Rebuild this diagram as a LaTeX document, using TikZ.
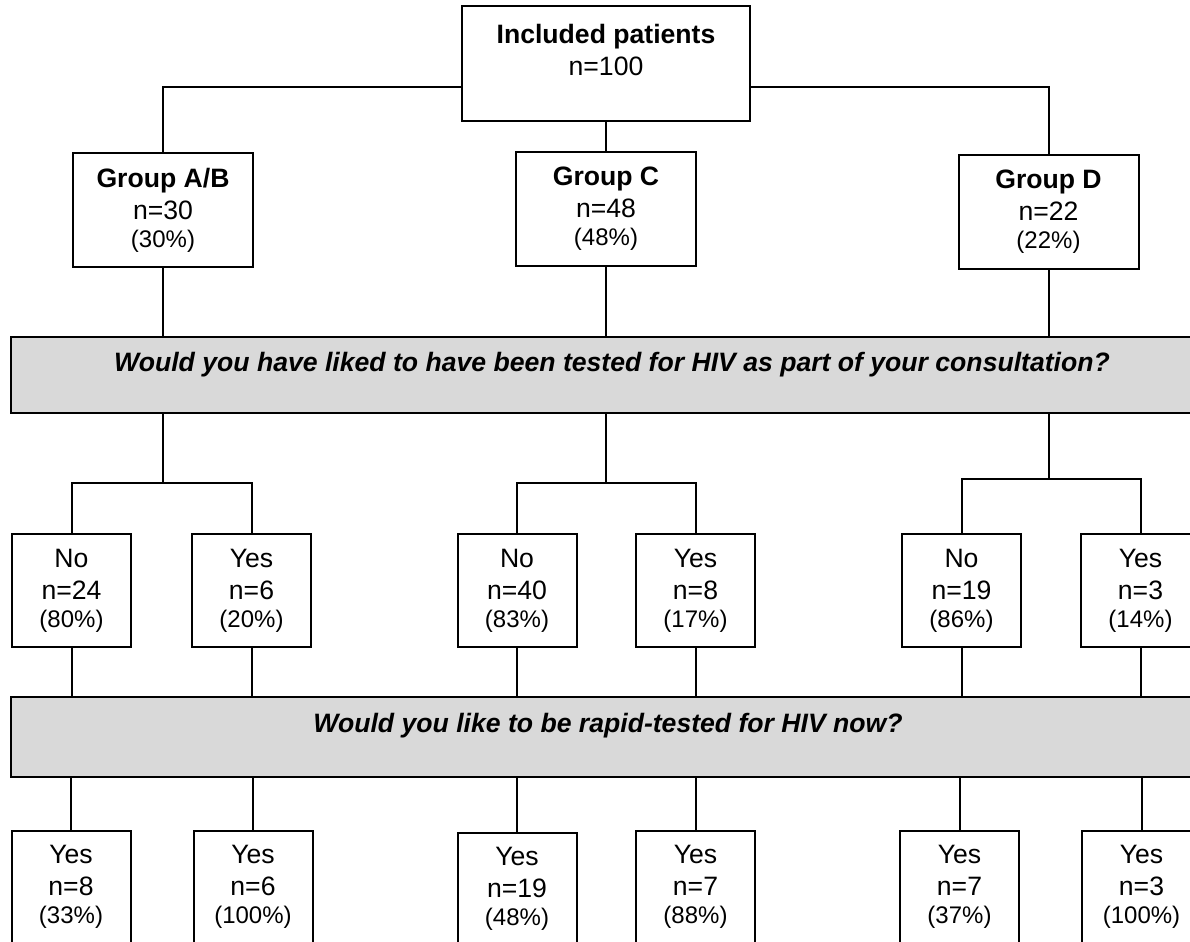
\documentclass[tikz,border=0pt]{standalone}
\usepackage{fontspec}
\setmainfont{Liberation Sans}
\definecolor{bandgray}{RGB}{217,217,217}
\newcommand\mainsz{\fontsize{13.3}{16}\selectfont}
\newcommand\pctsz{\fontsize{12}{14}\selectfont}
\begin{document}
\begin{tikzpicture}[x=0.5pt,y=-0.5pt,
  line width=1pt,
  box/.style={draw, line width=1pt, fill=white, inner sep=0pt, align=center, font=\mainsz},
  grp/.style={box, minimum width=90pt, minimum height=57pt},
  sml/.style={box, minimum width=59.5pt, minimum height=56.5pt},
  band/.style={draw, line width=1pt, fill=bandgray, minimum width=600pt, inner sep=0pt},
  qtxt/.style={font=\mainsz\bfseries\itshape, inner sep=0pt},
  lbl/.style={font=\mainsz, align=center, inner sep=0pt}]
\useasboundingbox (0,0) rectangle (1190,942);
\clip (0,0) rectangle (1190,942);
% top
\node[box, minimum width=144pt, minimum height=57.5pt] (top) at (606,63.5) {};
\node[lbl] (toplbl) at (606,50) {\textbf{Included patients}\\n=100};
% groups
\node[grp] (ab) at (163,210) {\textbf{Group A/B}\\n=30\\[-2pt]{\pctsz(30\%)}};
\node[grp] (gc) at (606,209) {\textbf{Group C}\\n=48\\[-2pt]{\pctsz(48\%)}};
\node[grp] (gd) at (1048.5,212) {\textbf{Group D}\\n=22\\[-2pt]{\pctsz(22\%)}};
% band 1
\node[band, minimum height=38pt] (q1) at (611,375) {};
\node[qtxt] (q1t) at (612,365) {Would you have liked to have been tested for HIV as part of your consultation?};
% mid boxes
\node[sml] (no24) at (71.5,590.5) {No\\n=24\\[-2pt]{\pctsz(80\%)}};
\node[sml] (yes6) at (251.5,590.5) {Yes\\n=6\\[-2pt]{\pctsz(20\%)}};
\node[sml] (no40) at (517,590.5) {No\\n=40\\[-2pt]{\pctsz(83\%)}};
\node[sml] (yes8) at (695.5,590.5) {Yes\\n=8\\[-2pt]{\pctsz(17\%)}};
\node[sml] (no19) at (961.5,590.5) {No\\n=19\\[-2pt]{\pctsz(86\%)}};
\node[sml] (yes3) at (1140.5,590.5) {Yes\\n=3\\[-2pt]{\pctsz(14\%)}};
% band 2
\node[band, minimum height=40pt] (q2) at (611,737) {};
\node[qtxt] (q2t) at (608,726) {Would you like to be rapid-tested for HIV now?};
% bottom boxes
\node[sml] (r1) at (71,887) {Yes\\n=8\\[-2pt]{\pctsz(33\%)}};
\node[sml] (r2) at (253,887) {Yes\\n=6\\[-2pt]{\pctsz(100\%)}};
\node[sml] (r3) at (517,889) {Yes\\n=19\\[-2pt]{\pctsz(48\%)}};
\node[sml] (r4) at (695.5,887) {Yes\\n=7\\[-2pt]{\pctsz(88\%)}};
\node[sml] (r5) at (959.5,887) {Yes\\n=7\\[-2pt]{\pctsz(37\%)}};
\node[sml] (r6) at (1141.5,887) {Yes\\n=3\\[-2pt]{\pctsz(100\%)}};
% connectors
\coordinate (h) at (0,87);
\draw (top.west |- h) -| (ab.north);
\draw (top.east |- h) -| (gd.north);
\draw (top.south) -- (top.south |- gc.north);
\foreach \g in {ab,gc,gd} \draw (\g.south) -- (\g.south |- q1.north);
\coordinate (b1) at (163,483);
\coordinate (b2) at (606,483);
\coordinate (b3) at (1049,479);
\foreach \b in {b1,b2,b3} \draw (q1.south -| \b) -- (\b);
\draw (no24.north) |- (b1) -| (yes6.north);
\draw (no40.north) |- (b2) -| (yes8.north);
\draw (no19.north) |- (b3) -| (yes3.north);
\foreach \n in {no24,yes6,no40,yes8,no19,yes3} \draw (\n.south) -- (\n.south |- q2.north);
\foreach \n in {r1,r2,r3,r4,r5,r6} \draw (q2.south -| \n.north) -- (\n.north);
\end{tikzpicture}
\end{document}
